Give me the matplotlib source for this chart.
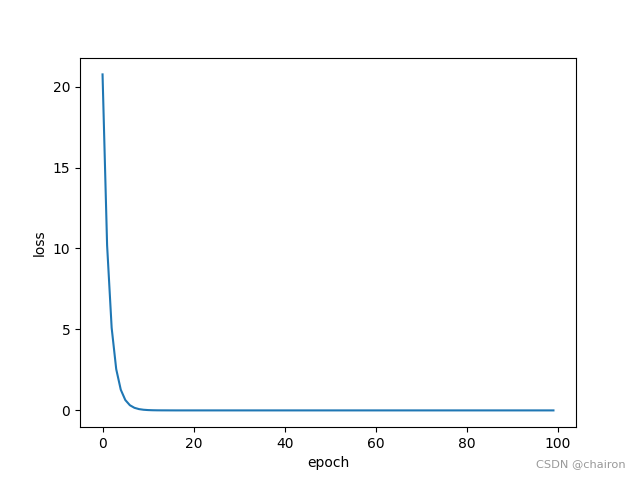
import matplotlib

matplotlib.use("Agg")
import matplotlib.pyplot as plt

# loss per epoch (epochs 0..99)
loss = [
    20.75, 10.2, 5.1, 2.55, 1.28, 0.64, 0.32, 0.16, 0.08, 0.04,
    0.02, 0.01, 0.005, 0.003, 0.002, 0.001, 0.0, 0.0, 0.0, 0.0,
    0.0, 0.0, 0.0, 0.0, 0.0, 0.0, 0.0, 0.0, 0.0, 0.0,
    0.0, 0.0, 0.0, 0.0, 0.0, 0.0, 0.0, 0.0, 0.0, 0.0,
    0.0, 0.0, 0.0, 0.0, 0.0, 0.0, 0.0, 0.0, 0.0, 0.0,
    0.0, 0.0, 0.0, 0.0, 0.0, 0.0, 0.0, 0.0, 0.0, 0.0,
    0.0, 0.0, 0.0, 0.0, 0.0, 0.0, 0.0, 0.0, 0.0, 0.0,
    0.0, 0.0, 0.0, 0.0, 0.0, 0.0, 0.0, 0.0, 0.0, 0.0,
    0.0, 0.0, 0.0, 0.0, 0.0, 0.0, 0.0, 0.0, 0.0, 0.0,
    0.0, 0.0, 0.0, 0.0, 0.0, 0.0, 0.0, 0.0, 0.0, 0.0,
]
epochs = list(range(len(loss)))

fig, ax = plt.subplots(figsize=(6.4, 4.8), dpi=100)
ax.plot(epochs, loss)
ax.set_xlabel("epoch")
ax.set_ylabel("loss")
fig.text(0.977, 0.023, "CSDN @chairon", ha="right", va="bottom",
         fontsize=8.2, color="#999999")
fig.savefig("out.png")
